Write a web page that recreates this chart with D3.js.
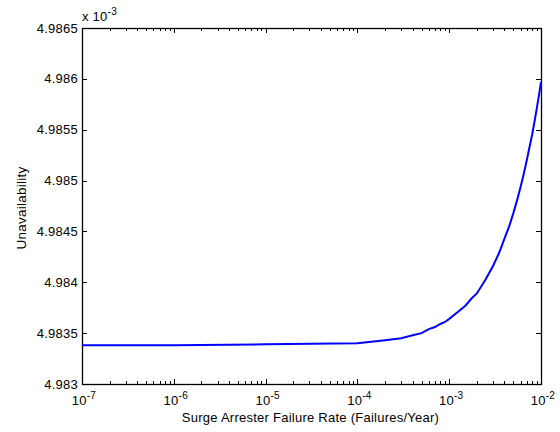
<!DOCTYPE html>
<html>
<head>
<meta charset="utf-8">
<script src="https://cdn.jsdelivr.net/npm/d3@7"></script>
<style>
  body { margin: 0; background: #fff; }
  text { font-family: "Liberation Sans", Arial, sans-serif; fill: #000; letter-spacing: 0.25px; }
</style>
</head>
<body>
<div id="chart"></div>
<script>
// Failure rate (failures/year) and unavailability (x 1e-3)
const rates = [1e-7, 1e-6, 1e-5, 1e-4, 2e-4, 3e-4, 4e-4, 5e-4, 6e-4, 7e-4, 8e-4, 9e-4,
  1e-3, 1.25e-3, 1.5e-3, 1.75e-3, 2e-3, 2.5e-3, 3e-3, 3.5e-3, 4e-3, 4.5e-3, 5e-3,
  5.5e-3, 6e-3, 6.5e-3, 7e-3, 7.5e-3, 8e-3, 8.5e-3, 9e-3, 9.5e-3, 1e-2];
const unavail = [4.98338, 4.98338, 4.98339, 4.98340, 4.98343, 4.98345, 4.98348, 4.98350,
  4.98354, 4.98356, 4.98359, 4.98361, 4.98364, 4.98371, 4.98377, 4.98384, 4.98389,
  4.98403, 4.98416, 4.98429, 4.98443, 4.98455, 4.98468, 4.98481, 4.98494, 4.98507,
  4.98520, 4.98533, 4.98545, 4.98558, 4.98571, 4.98584, 4.98597];
const yTicks = [4.983, 4.9835, 4.984, 4.9845, 4.985, 4.9855, 4.986, 4.9865];
const xTickExp = [-7, -6, -5, -4, -3, -2];

const width = 560;
const height = 432;
const margin = {left: 82, right: 19, top: 28, bottom: 48};

const svg = d3.select("#chart")
  .append("svg")
  .attr("width", width)
  .attr("height", height);

const x = d3.scaleLog()
  .domain([1e-7, 1e-2])
  .range([margin.left, width - margin.right]);

const y = d3.scaleLinear()
  .domain([4.983, 4.9865])
  .range([height - margin.bottom, margin.top]);

const x0 = margin.left, x1 = width - margin.right;
const y0 = height - margin.bottom, y1 = margin.top;

// Minor log ticks (2..9 per decade)
const minor = [];
for (let e = -7; e < -2; e++) {
  for (let k = 2; k <= 9; k++) minor.push(k * Math.pow(10, e));
}

const tickG = svg.append("g")
  .attr("stroke", "#000")
  .attr("stroke-width", 1)
  .attr("shape-rendering", "crispEdges");

// x ticks, bottom and top, pointing inward
tickG.selectAll("line.xmaj")
  .data(xTickExp.flatMap(e => [[e, y0, -5], [e, y1, 5]]))
  .enter()
  .append("line")
  .attr("x1", d => Math.round(x(Math.pow(10, d[0]))) + 0.5)
  .attr("x2", d => Math.round(x(Math.pow(10, d[0]))) + 0.5)
  .attr("y1", d => d[1])
  .attr("y2", d => d[1] + d[2]);

tickG.selectAll("line.xmin")
  .data(minor.flatMap(v => [[v, y0, -3], [v, y1, 3]]))
  .enter()
  .append("line")
  .attr("x1", d => Math.round(x(d[0])) + 0.5)
  .attr("x2", d => Math.round(x(d[0])) + 0.5)
  .attr("y1", d => d[1])
  .attr("y2", d => d[1] + d[2]);

// y ticks, left and right
tickG.selectAll("line.y")
  .data(yTicks.flatMap(v => [[v, x0, 5], [v, x1, -5]]))
  .enter()
  .append("line")
  .attr("y1", d => Math.round(y(d[0])) + 0.5)
  .attr("y2", d => Math.round(y(d[0])) + 0.5)
  .attr("x1", d => d[1])
  .attr("x2", d => d[1] + d[2]);

// Box
svg.append("rect")
  .attr("x", x0 + 0.5)
  .attr("y", y1 + 0.5)
  .attr("width", x1 - x0)
  .attr("height", y0 - y1)
  .attr("fill", "none")
  .attr("stroke", "#000")
  .attr("stroke-width", 1.3);

// Curve
const line = d3.line()
  .x((d, i) => x(rates[i]))
  .y(d => y(d));

svg.append("path")
  .datum(unavail)
  .attr("fill", "none")
  .attr("stroke", "#0000ff")
  .attr("stroke-width", 2)
  .attr("d", line);

// y tick labels
svg.selectAll("text.ylab")
  .data(yTicks)
  .enter()
  .append("text")
  .attr("x", x0 - 4)
  .attr("y", d => y(d) + 4.5)
  .attr("text-anchor", "end")
  .style("font-size", "13px")
  .text(d => d3.format("")(d));

// x tick labels: 10^e
const xl = svg.selectAll("text.xlab")
  .data(xTickExp)
  .enter()
  .append("text")
  .attr("x", d => x(Math.pow(10, d)) + 2)
  .attr("y", y0 + 21)
  .attr("text-anchor", "middle")
  .style("font-size", "13px");
xl.append("tspan").text("10");
xl.append("tspan")
  .attr("dy", -6)
  .style("font-size", "10px")
  .text(d => "-" + Math.abs(d));

// Exponent marker
const ex = svg.append("text")
  .attr("x", x0)
  .attr("y", y1 - 7)
  .style("font-size", "13px");
ex.append("tspan").text("x 10");
ex.append("tspan").attr("dy", -6).style("font-size", "10px").text("-3");

// Axis labels
svg.append("text")
  .attr("x", (x0 + x1) / 2 - 1)
  .attr("y", 422)
  .attr("text-anchor", "middle")
  .style("font-size", "13px")
  .text("Surge Arrester Failure Rate (Failures/Year)");

svg.append("text")
  .attr("transform", `translate(26,${(y0 + y1) / 2 + 2}) rotate(-90)`)
  .attr("text-anchor", "middle")
  .style("font-size", "13.5px")
  .text("Unavailability");
</script>
</body>
</html>
